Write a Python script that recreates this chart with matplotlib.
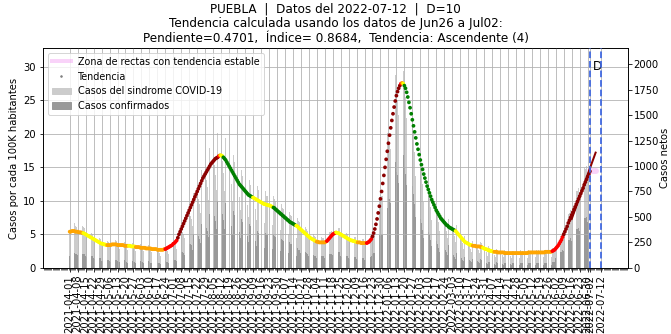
import numpy as np
import pandas as pd
import matplotlib
matplotlib.use('Agg')
import matplotlib.pyplot as plt
from matplotlib.lines import Line2D
from matplotlib.patches import Patch

estado = 'PUEBLA'
fecha_datos = '2022-07-12'
retraso = 10
ventana = 'Jun26 a Jul02'
pendiente = 0.4701
indice = 0.8684
tendencia_txt = 'Ascendente (4)'
poblacion = 6580000   # casos netos -> casos por 100K

inicio = '2021-04-01'

# Casos diarios (una fila por semana, de jueves a miercoles)
casos_sindrome = [
    350, 340, 300, 250, 440, 410, 400,
    360, 330, 300, 240, 410, 400, 390,
    330, 310, 270, 220, 360, 340, 330,
    280, 260, 230, 190, 310, 290, 280,
    240, 230, 200, 160, 270, 260, 250,
    220, 210, 200, 160, 280, 270, 260,
    230, 210, 190, 160, 270, 250, 250,
    220, 210, 180, 150, 260, 240, 240,
    210, 200, 170, 140, 250, 240, 230,
    200, 190, 170, 140, 230, 220, 220,
    190, 180, 160, 130, 220, 210, 210,
    180, 170, 150, 120, 210, 200, 210,
    190, 180, 170, 140, 250, 250, 260,
    240, 230, 220, 190, 350, 360, 380,
    350, 350, 330, 290, 520, 530, 550,
    510, 510, 480, 410, 740, 740, 770,
    690, 680, 630, 540, 960, 950, 980,
    880, 860, 790, 670, 1180, 1150, 1180,
    1040, 1010, 910, 760, 1320, 1270, 1280,
    1110, 1050, 930, 750, 1280, 1200, 1180,
    1000, 930, 820, 660, 1110, 1040, 1020,
    870, 800, 700, 570, 960, 900, 890,
    760, 710, 620, 500, 860, 810, 800,
    690, 650, 580, 470, 800, 760, 750,
    650, 610, 540, 440, 750, 710, 710,
    610, 580, 520, 420, 710, 680, 660,
    570, 530, 470, 370, 630, 590, 580,
    500, 460, 400, 330, 550, 520, 510,
    440, 410, 360, 290, 490, 460, 450,
    380, 350, 300, 250, 400, 380, 360,
    310, 280, 250, 200, 330, 310, 300,
    260, 240, 210, 180, 300, 290, 290,
    250, 240, 220, 190, 350, 350, 360,
    330, 320, 290, 250, 410, 390, 390,
    330, 310, 270, 220, 360, 340, 330,
    280, 260, 230, 190, 320, 300, 300,
    260, 240, 210, 180, 290, 280, 280,
    240, 230, 210, 170, 310, 310, 330,
    310, 330, 330, 300, 580, 620, 700,
    680, 710, 710, 640, 1190, 1230, 1320,
    1230, 1240, 1170, 1020, 1820, 1820, 1890,
    1700, 1650, 1500, 1260, 1980, 1950, 1930,
    1800, 1680, 1470, 1180, 1900, 1810, 1750,
    1460, 1330, 1140, 900, 1470, 1340, 1280,
    1060, 970, 820, 650, 1060, 970, 930,
    770, 700, 600, 470, 780, 710, 680,
    570, 520, 450, 360, 590, 550, 530,
    450, 410, 360, 290, 480, 460, 450,
    380, 360, 310, 250, 420, 390, 370,
    310, 280, 240, 190, 310, 290, 280,
    240, 220, 190, 160, 260, 250, 250,
    210, 200, 180, 150, 250, 240, 230,
    190, 180, 160, 120, 210, 200, 190,
    160, 150, 130, 110, 190, 170, 170,
    150, 140, 130, 110, 180, 170, 170,
    150, 140, 120, 100, 170, 170, 160,
    140, 140, 120, 100, 180, 160, 170,
    150, 140, 120, 100, 180, 170, 170,
    150, 140, 130, 110, 180, 170, 180,
    150, 150, 130, 110, 180, 180, 180,
    160, 150, 130, 110, 200, 200, 200,
    190, 190, 190, 170, 310, 320, 350,
    330, 340, 330, 290, 530, 540, 570,
    520, 520, 490, 420, 750, 750, 780,
    710, 700, 650, 550, 980, 970, 1000,
    900, 880, 810,
]

casos_confirmados = [
    120, 120, 100, 90, 150, 140, 140,
    130, 120, 110, 80, 140, 140, 140,
    120, 110, 90, 80, 130, 120, 120,
    100, 90, 80, 70, 110, 100, 100,
    70, 70, 60, 50, 80, 80, 80,
    70, 60, 60, 50, 80, 80, 80,
    70, 60, 60, 50, 80, 80, 80,
    70, 60, 50, 50, 80, 70, 70,
    60, 60, 50, 40, 80, 70, 70,
    60, 60, 50, 40, 70, 70, 70,
    60, 50, 50, 40, 70, 60, 60,
    50, 50, 50, 40, 60, 60, 60,
    70, 60, 60, 50, 90, 90, 90,
    80, 80, 80, 70, 120, 130, 130,
    160, 160, 150, 130, 230, 240, 250,
    230, 230, 220, 180, 330, 330, 350,
    310, 310, 280, 240, 430, 430, 440,
    400, 390, 360, 300, 530, 520, 530,
    520, 510, 460, 380, 660, 640, 640,
    560, 530, 470, 380, 640, 600, 590,
    500, 470, 410, 330, 560, 520, 510,
    440, 400, 350, 290, 480, 450, 450,
    380, 360, 310, 250, 430, 410, 400,
    310, 290, 260, 210, 360, 340, 340,
    290, 270, 240, 200, 340, 320, 320,
    270, 260, 230, 190, 320, 310, 300,
    260, 240, 210, 170, 280, 270, 260,
    230, 210, 180, 150, 250, 230, 230,
    180, 160, 140, 120, 200, 180, 180,
    150, 140, 120, 100, 160, 150, 140,
    120, 110, 100, 80, 130, 120, 120,
    100, 100, 80, 70, 120, 120, 120,
    100, 100, 90, 80, 140, 140, 140,
    130, 130, 120, 100, 160, 160, 160,
    120, 110, 90, 80, 130, 120, 120,
    100, 90, 80, 70, 110, 110, 110,
    90, 80, 70, 60, 100, 100, 100,
    80, 80, 70, 60, 110, 110, 120,
    140, 150, 150, 140, 260, 280, 320,
    310, 320, 320, 290, 540, 550, 590,
    680, 680, 640, 560, 1000, 1000, 1040,
    940, 910, 830, 690, 1150, 1120, 1110,
    990, 920, 810, 650, 1060, 1000, 960,
    800, 730, 630, 500, 810, 740, 700,
    480, 440, 370, 290, 480, 440, 420,
    350, 320, 270, 210, 350, 320, 310,
    260, 230, 200, 160, 270, 250, 240,
    200, 180, 160, 130, 220, 210, 200,
    130, 130, 110, 90, 150, 140, 130,
    110, 100, 80, 70, 110, 100, 100,
    80, 80, 70, 60, 90, 90, 90,
    70, 70, 60, 50, 90, 80, 80,
    60, 50, 50, 40, 60, 60, 60,
    50, 50, 40, 30, 60, 50, 50,
    50, 40, 40, 30, 50, 50, 50,
    50, 40, 40, 30, 50, 50, 50,
    40, 40, 40, 30, 50, 50, 50,
    50, 40, 40, 30, 50, 50, 50,
    50, 40, 40, 30, 50, 50, 50,
    50, 50, 40, 30, 50, 50, 50,
    50, 50, 40, 30, 60, 60, 60,
    100, 100, 100, 90, 160, 160, 180,
    170, 170, 170, 150, 270, 270, 290,
    260, 260, 250, 210, 380, 380, 390,
    360, 350, 330, 280, 490, 490, 500,
    450, 440, 410,
]

# Tendencia (casos por cada 100K habitantes), un punto por dia
tendencia = [
    5.4, 5.4, 5.5, 5.5, 5.5, 5.4, 5.4, 5.4, 5.3, 5.3, 5.3, 5.2,
    5.2, 5.1, 5.0, 4.9, 4.8, 4.7, 4.6, 4.5, 4.4, 4.3, 4.2, 4.1, 4.0, 3.9, 3.8, 3.7, 3.6, 3.6, 3.5, 3.5, 3.4,
    3.4, 3.4, 3.4, 3.4, 3.5, 3.5, 3.5, 3.5, 3.5, 3.4, 3.4, 3.4, 3.4, 3.4, 3.4, 3.3, 3.3, 3.3, 3.3,
    3.3, 3.3, 3.2, 3.2, 3.2, 3.2,
    3.1, 3.1, 3.1, 3.1, 3.0, 3.0, 3.0, 3.0, 3.0, 2.9, 2.9, 2.9, 2.9, 2.9, 2.8, 2.8, 2.8, 2.8, 2.8,
    2.7, 2.7, 2.7, 2.7, 2.7, 2.7, 2.8,
    2.8, 2.9, 3.0, 3.1, 3.2, 3.3, 3.4, 3.6, 3.7, 3.9, 4.1,
    4.5, 5.0, 5.4, 5.8, 6.2, 6.6, 7.0, 7.4, 7.8, 8.2, 8.6, 9.0, 9.4, 9.8, 10.2, 10.6, 11.0, 11.4,
    11.8, 12.2, 12.6, 13.0, 13.4, 13.7, 14.0, 14.3, 14.6, 14.9, 15.2, 15.5, 15.7, 15.9, 16.1, 16.3,
    16.4, 16.5,
    16.7, 16.8, 16.8, 16.7,
    16.5, 16.3, 16.1, 15.8, 15.5, 15.2, 14.9, 14.6, 14.3, 14.0, 13.7, 13.4, 13.1, 12.8, 12.5, 12.3,
    12.1, 11.9, 11.7, 11.5, 11.3, 11.1, 10.9, 10.8, 10.7, 10.6,
    10.5, 10.4, 10.3, 10.2, 10.1, 10.0, 9.9, 9.8, 9.7, 9.6, 9.5, 9.5, 9.4, 9.4, 9.3, 9.3, 9.2, 9.1,
    9.0, 8.9, 8.7, 8.6, 8.4, 8.3, 8.1, 8.0, 7.8, 7.7, 7.5, 7.4, 7.2, 7.1, 6.9, 6.8, 6.7, 6.6, 6.5, 6.4,
    6.3, 6.2, 6.0, 5.9, 5.7, 5.6, 5.4, 5.3, 5.1, 5.0, 4.8, 4.7, 4.5, 4.4, 4.3, 4.2, 4.1, 4.0,
    3.9, 3.9, 3.8, 3.8, 3.8, 3.8, 3.8, 3.8, 3.9,
    4.0, 4.2, 4.4, 4.6, 4.8, 5.0, 5.1, 5.2,
    5.3, 5.2, 5.2, 5.1, 5.0, 4.9, 4.8, 4.7, 4.6, 4.5, 4.4, 4.3, 4.2, 4.1, 4.1, 4.0, 4.0, 3.9, 3.9,
    3.8, 3.8, 3.8, 3.7, 3.7, 3.7, 3.7, 3.7,
    3.7, 3.8, 3.9, 4.1, 4.3,
    4.7, 5.2, 5.8, 6.5, 7.3, 8.2, 9.2, 10.3, 11.4, 12.6, 13.8, 15.0, 16.2, 17.4, 18.6, 19.8, 20.9,
    22.0, 23.0, 24.0, 24.9, 25.7, 26.3, 26.8, 27.2,
    27.5, 27.6, 27.5,
    27.2, 26.8, 26.2, 25.5, 24.7, 23.9, 23.0, 22.1, 21.2, 20.3, 19.4, 18.5, 17.7, 16.9, 16.1, 15.4,
    14.7, 14.0, 13.4, 12.8, 12.2, 11.7, 11.2, 10.7, 10.2, 9.8, 9.4, 9.0, 8.6, 8.3, 8.0, 7.7, 7.4,
    7.2, 7.0, 6.8, 6.6, 6.4, 6.3, 6.1, 6.0, 5.9, 5.8, 5.7, 5.6,
    5.5, 5.3, 5.1, 4.9, 4.7, 4.5, 4.3, 4.1, 3.9, 3.8, 3.7, 3.6, 3.5, 3.4, 3.4,
    3.3, 3.3, 3.3, 3.2, 3.2, 3.2, 3.2, 3.1, 3.1,
    3.0, 2.9, 2.8, 2.8, 2.7, 2.6, 2.6, 2.5, 2.5, 2.4,
    2.4, 2.4, 2.4, 2.3, 2.3, 2.3, 2.3, 2.3, 2.3, 2.2, 2.2, 2.2, 2.2, 2.2, 2.2, 2.2, 2.2,
    2.2, 2.2, 2.2, 2.2, 2.2, 2.2, 2.2, 2.2, 2.2, 2.2, 2.2, 2.2, 2.2, 2.3, 2.3, 2.3, 2.3,
    2.3, 2.3, 2.3, 2.3, 2.3, 2.3, 2.3, 2.3, 2.3, 2.3, 2.3, 2.4, 2.4, 2.4, 2.4, 2.4, 2.4,
    2.5, 2.6, 2.7, 2.9, 3.1, 3.3, 3.6, 3.9, 4.2, 4.6,
    5.0, 5.4, 5.8, 6.2, 6.7, 7.1, 7.5, 7.9, 8.3, 8.7, 9.1, 9.5, 9.9, 10.3, 10.7, 11.1, 11.5,
    11.9, 12.4, 12.8, 13.2, 13.6, 14.0, 14.4,
]

# Clase de tendencia de cada punto (tramos: clase, numero de dias)
clase_tendencia = [
    ('naranja', 12), ('amarillo', 21), ('naranja', 19), ('amarillo', 6), ('naranja', 26),
    ('rojo', 11), ('vino', 36), ('rojo', 1), ('naranja', 1), ('amarillo', 2),
    ('verde', 26), ('amarillo', 18), ('verde', 20), ('amarillo', 18), ('naranja', 9),
    ('rojo', 8), ('amarillo', 19), ('naranja', 8), ('rojo', 5), ('vino', 25),
    ('rojo', 1), ('naranja', 1), ('amarillo', 1), ('verde', 45), ('amarillo', 15),
    ('naranja', 9), ('amarillo', 10), ('naranja', 51), ('rojo', 10), ('vino', 24),
]
colores_clase = {'amarillo': '#ffff00', 'naranja': '#ffa500', 'rojo': '#ff0000',
                 'vino': '#8b0000', 'verde': '#008000'}

# Recta de la tendencia actual y zona estable (casos por 100K)
recta_fechas = ['2022-06-16', '2022-07-07']
recta_valores = [7.3, 17.2]
zona_fechas = ['2022-07-02', '2022-07-07']
zona_valores = [14.5, 14.5]

lineas_ventana = ['2022-07-02', '2022-07-12']
ticks_extra = ['2022-07-02', '2022-07-12']


fechas = pd.date_range(inicio, periods=len(casos_sindrome), freq='D')
fechas_tend = pd.date_range(inicio, periods=len(tendencia), freq='D')
colores = []
for clase, n in clase_tendencia:
    colores += [colores_clase[clase]] * n
assert len(colores) == len(tendencia)

fig = plt.figure(figsize=(671 / 72, 334 / 72), dpi=72)
ax = fig.add_axes([0.064, 0.198, 0.872, 0.658])
ax2 = ax.twinx()
ax.set_zorder(ax2.get_zorder() + 1)
ax.patch.set_visible(False)

ax2.bar(fechas, casos_sindrome, width=0.5, color='#cccccc', linewidth=0)
ax2.bar(fechas, casos_confirmados, width=0.5, color='#999999', linewidth=0)

ax.plot(pd.to_datetime(zona_fechas), zona_valores, color='violet', alpha=0.35, lw=6,
        solid_capstyle='round', zorder=3)
ax.plot(pd.to_datetime(recta_fechas), recta_valores, color='#8b0000', lw=2, zorder=3)
ax.scatter(fechas_tend, tendencia, c=colores, s=14, linewidths=0, zorder=4)

for f in lineas_ventana:
    ax.axvline(pd.Timestamp(f), color='#4169e1', ls='--', lw=1.8, zorder=4)
ax.text(pd.Timestamp('2022-07-09'), 30, 'D', fontsize=12, ha='center', va='center')

x0 = pd.Timestamp(inicio) - pd.Timedelta(days=23.5)
x1 = pd.Timestamp(lineas_ventana[-1]) + pd.Timedelta(days=23.5)
ax.set_xlim(x0, x1)
ymax = 32.8
ax.set_ylim(0, ymax)
ax2.set_ylim(0, ymax * poblacion / 1e5)
ax2.set_yticks(np.arange(0, 2001, 250))

ticks = list(pd.date_range(inicio, '2022-06-30', freq='7D')) + list(pd.to_datetime(ticks_extra))
ax.set_xticks(ticks)
ax.set_xticklabels([t.strftime('%Y-%m-%d') for t in ticks], rotation=90)
ax.set_xticks(pd.date_range(x0.ceil('D'), x1, freq='D'), minor=True)
ax.tick_params(axis='x', which='minor', length=2)
ax.grid(True, color='#b0b0b0', lw=0.8)

ax.set_ylabel('Casos por cada 100K habitantes')
ax2.tick_params(axis='y', pad=2)
ax2.set_ylabel('Casos netos', labelpad=1)

titulo = (f'{estado}  |  Datos del {fecha_datos}  |  D={retraso}\n'
          f'Tendencia calculada usando los datos de {ventana}:\n'
          f'Pendiente={pendiente:.4f},  Índice= {indice:.4f},  Tendencia: {tendencia_txt}')
ax.set_title(titulo, fontsize=12)

handles = [
    Line2D([], [], color='violet', alpha=0.35, lw=4),
    Line2D([], [], ls='', marker='.', ms=3, color='gray'),
    Patch(color='#cccccc'),
    Patch(color='#999999'),
]
labels = ['Zona de rectas con tendencia estable', 'Tendencia',
          'Casos del sindrome COVID-19', 'Casos confirmados']
ax.legend(handles, labels, loc='upper left', fontsize=9.6)

fig.savefig('out.png', dpi=72)
